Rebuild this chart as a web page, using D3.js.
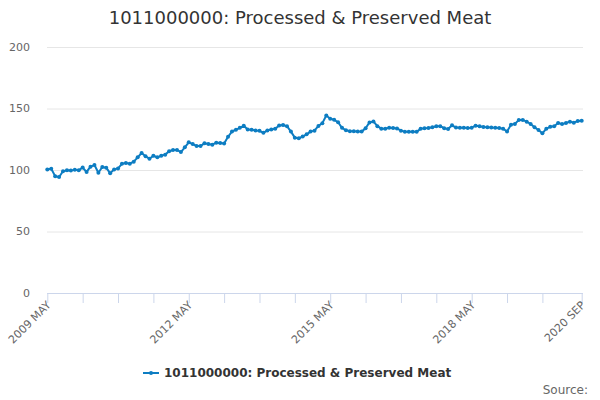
<!DOCTYPE html>
<html><head><meta charset="utf-8">
<script src="https://cdn.jsdelivr.net/npm/d3@7"></script>
<style>
body{margin:0;background:#fff;}
svg{font-family:"DejaVu Sans",Verdana,sans-serif;}
</style></head>
<body><svg id="c" width="600" height="400"></svg>
<script>
const title = "1011000000: Processed & Preserved Meat";
const seriesName = "1011000000: Processed & Preserved Meat";
const values = [100.5,101,95,94.3,99,99.7,99.5,100.3,99.7,102,98.4,102.7,104,97.8,102.4,101.9,97.3,100.5,101.3,105,
105.7,105.1,106.8,110.3,113.8,111.1,109.2,111.6,110.3,111.6,112.5,115.2,116.3,116.3,114.6,118.4,122.5,121.1,119.5,119.5,
121.7,121.1,120.6,122.2,122,121.5,127,131.3,132.7,134.3,135.9,133,132.7,132.2,131.9,130.2,132.2,133,133.5,136.1,
136.6,135.6,131.2,126.3,125.8,127.2,129,131.2,132,135.8,138.1,144.3,141.7,140.8,138.8,134.3,132.3,131.6,131.5,131.4,
131.2,133.9,138.7,139.5,135.6,133.6,133.6,134.3,134.1,133.8,132,131.1,131,131,131,133.6,133.9,134.1,134.8,135.5,
135.6,134,133.4,136.3,134.5,134.4,134.4,134.2,134.4,136,135.5,135,134.8,134.5,134.3,134.1,133.6,131.3,136.8,137.5,
140.7,140.7,139.3,137.4,134.7,132.5,129.8,133.6,135.1,135.6,138.2,137.3,138.2,139.3,138.5,139.8,140];
const monthNames = ["JAN","FEB","MAR","APR","MAY","JUN","JUL","AUG","SEP","OCT","NOV","DEC"];
const categories = d3.timeMonth.range(new Date(2009,4,1), new Date(2020,9,1)).map(d => d.getFullYear()+" "+monthNames[d.getMonth()]);
const labelledTicks = ["2009 MAY","2012 MAY","2015 MAY","2018 MAY","2020 SEP"];
const yTicks = [0,50,100,150,200];

const svg = d3.select("#c");
const color = "#0d7dc2";
const pLeft = 47.3, pRight = 581.7, plotRight = 583, pTop = 47, pBottom = 293;

const x = d3.scalePoint().domain(categories).range([pLeft, pRight]);
const y = d3.scaleLinear().domain([0,200]).range([pBottom, pTop]);

// grid
svg.append("g").selectAll("line").data(yTicks.filter(d=>d>0)).join("line")
  .attr("x1", 47).attr("x2", plotRight).attr("y1", d=>y(d)+0.5).attr("y2", d=>y(d)+0.5)
  .attr("stroke","#e6e6e6").attr("stroke-width",1);

// y labels
svg.append("g").selectAll("text").data(yTicks).join("text")
  .attr("x", 30).attr("y", d=>y(d)).attr("dy","0.35em").attr("text-anchor","end")
  .attr("fill","#666").attr("font-size","11px").text(d=>d);

// x axis
const tickCats = categories.filter((c,i)=> (i%9===0 && i < categories.length-3) || i===categories.length-1);
const xAxis = d3.axisBottom(x).tickValues(tickCats).tickSize(10).tickFormat(d => labelledTicks.includes(d) ? d : "");
const gx = svg.append("g").attr("transform",`translate(0,${pBottom})`).call(xAxis);
gx.select(".domain").attr("d", `M47,0.5H${plotRight}`).attr("stroke","#ccd6eb");
gx.selectAll(".tick line").attr("stroke","#ccd6eb");
gx.selectAll(".tick text").attr("fill","#666").attr("font-size","11px").attr("font-family","DejaVu Sans, sans-serif")
  .attr("text-anchor","end").attr("transform","translate(1,10) rotate(-45)").attr("dy","0.35em").attr("y",0).attr("x",0);

// line
const line = d3.line().x((d,i)=>x(categories[i])).y(d=>y(d));
svg.append("path").datum(values).attr("d", line).attr("fill","none").attr("stroke",color).attr("stroke-width",2)
  .attr("stroke-linejoin","round");
svg.append("g").selectAll("circle").data(values).join("circle")
  .attr("cx",(d,i)=>x(categories[i])).attr("cy",d=>y(d)).attr("r",2).attr("fill",color);

// title
svg.append("text").attr("x",300).attr("y",24).attr("text-anchor","middle").attr("fill","#333")
  .attr("font-size","18px").text(title);

// legend
const lg = svg.append("g").attr("transform","translate(143,373)");
lg.append("line").attr("x1",0).attr("x2",16).attr("y1",0).attr("y2",0).attr("stroke",color).attr("stroke-width",2);
lg.append("circle").attr("cx",8).attr("cy",0).attr("r",2).attr("fill",color);
lg.append("text").attr("x",21).attr("y",0).attr("dy","0.35em").attr("fill","#333").attr("font-size","12px")
  .attr("font-weight","bold").text(seriesName);

// credits
svg.append("text").attr("x",588).attr("y",394).attr("text-anchor","end").attr("fill","#666")
  .attr("font-size","12px").text("Source:");
</script></body></html>
